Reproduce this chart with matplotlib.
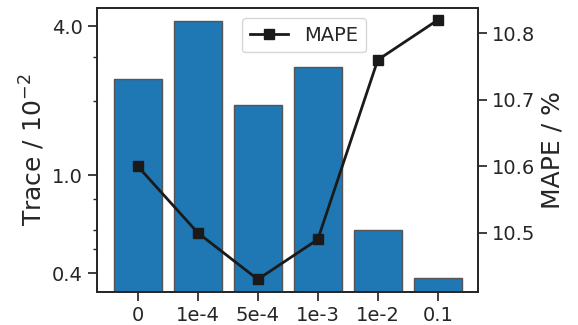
import matplotlib

matplotlib.use("Agg")
import matplotlib.pyplot as plt
from matplotlib.ticker import FixedLocator, NullFormatter

# data
labels = ["0", "1e-4", "5e-4", "1e-3", "1e-2", "0.1"]
trace = [2.45, 4.2, 1.92, 2.75, 0.60, 0.382]
mape = [10.60, 10.50, 10.43, 10.49, 10.76, 10.82]

TEXT = "#262626"

plt.rcParams.update({
    "font.family": "DejaVu Sans",
    "text.color": TEXT,
    "axes.labelcolor": TEXT,
    "xtick.color": TEXT,
    "ytick.color": TEXT,
    "axes.edgecolor": TEXT,
    "axes.linewidth": 1.25,
})


def build_plot():
    fig = plt.figure(figsize=(5.78, 3.25), dpi=100)
    ax = fig.add_axes([97 / 578, 1 - 292 / 325, 381 / 578, 284 / 325])
    x = list(range(len(labels)))
    ax.bar(x, trace, width=0.8, color="#1f77b4", edgecolor="#555555", linewidth=1.0)
    ax.set_yscale("log")
    ax.set_ylim(0.336, 4.75)
    ax.yaxis.set_major_locator(FixedLocator([0.4, 1.0, 4.0]))
    ax.set_yticklabels(["0.4", "1.0", "4.0"])
    ax.yaxis.set_minor_locator(FixedLocator([0.5, 0.6, 0.8, 2.0, 3.0]))
    ax.yaxis.set_minor_formatter(NullFormatter())
    ax.set_xticks(x)
    ax.set_xticklabels(labels)
    ax.tick_params(axis="both", which="major", labelsize=14, length=6.5, width=1.25)
    ax.tick_params(axis="y", which="minor", length=3, width=1.0)
    ax.set_ylabel(r"Trace / $10^{-2}$", fontsize=18)

    ax2 = ax.twinx()
    ax2.plot(x, mape, color="#1a1a1a", marker="s", markersize=7.5, linewidth=2.0, label="MAPE")
    ax2.set_ylim(10.411, 10.838)
    ax2.set_yticks([10.5, 10.6, 10.7, 10.8])
    ax2.tick_params(axis="y", labelsize=14, length=6.5, width=1.25)
    ax2.set_ylabel("MAPE / %", fontsize=18)
    ax.set_xlim(-0.68, 5.67)

    ax2.legend(loc="upper left", bbox_to_anchor=(0.38, 0.965), borderaxespad=0,
               fontsize=14, handlelength=2.0, framealpha=0.8)
    return fig


def main() -> None:
    fig = build_plot()
    fig.savefig("out.png", dpi=100)


if __name__ == "__main__":
    main()
